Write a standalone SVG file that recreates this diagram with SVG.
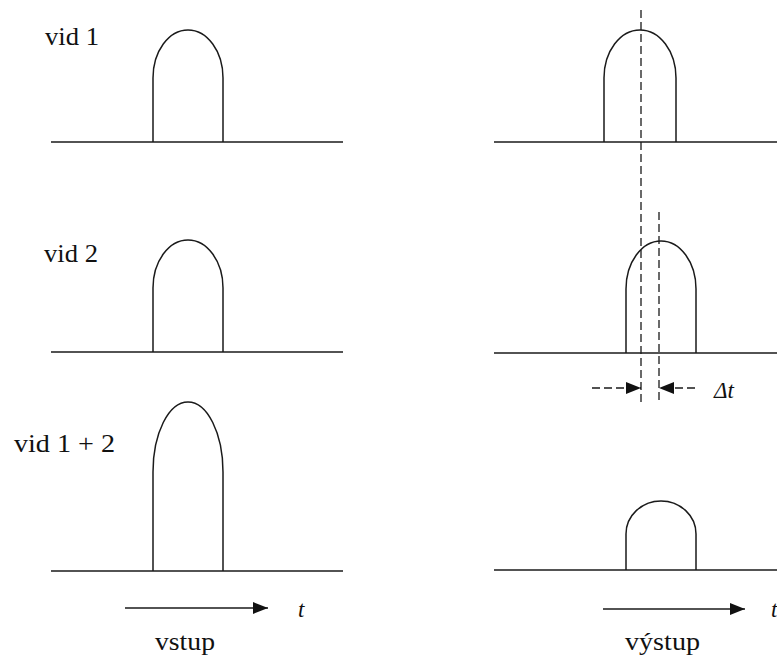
<svg xmlns="http://www.w3.org/2000/svg" width="777" height="659" viewBox="0 0 777 659">
<defs>
<style>
.ln{stroke:#1a1a1a;stroke-width:1.5;fill:none}
.dash{stroke:#1a1a1a;stroke-width:1.3;fill:none;stroke-dasharray:8 4}
.tx{font-family:"Liberation Serif","Times New Roman",serif;fill:#111}
.it{font-style:italic}
</style>
<marker id="ah" markerWidth="15" markerHeight="12" refX="15" refY="6" orient="auto" markerUnits="userSpaceOnUse">
<path d="M0,0 L15,6 L0,12 Z" fill="#111"/>
</marker>
</defs>
<rect width="777" height="659" fill="#fff"/>
<g id="labels">
<text class="tx" x="45" y="45" font-size="25" textLength="54" lengthAdjust="spacingAndGlyphs">vid 1</text>
<text class="tx" x="44" y="262" font-size="25" textLength="54" lengthAdjust="spacingAndGlyphs">vid 2</text>
<text class="tx" x="14" y="452" font-size="25" textLength="101" lengthAdjust="spacingAndGlyphs">vid 1 + 2</text>
<text class="tx" x="155" y="650" font-size="26" textLength="60" lengthAdjust="spacingAndGlyphs">vstup</text>
<text class="tx" x="625" y="650" font-size="26" textLength="75" lengthAdjust="spacingAndGlyphs">výstup</text>
<text class="tx it" x="298" y="617" font-size="23">t</text>
<text class="tx it" x="771" y="617" font-size="23">t</text>
<text class="tx it" x="714" y="398" font-size="23">Δt</text>
</g>
<g id="input">
<path class="ln" d="M51,142 H343"/>
<path class="ln" d="M153,142 V78 A35,48 0 0 1 223,78 V142"/>
<path class="ln" d="M51,352 H343"/>
<path class="ln" d="M153,352 V288 A35,48 0 0 1 223,288 V352"/>
<path class="ln" d="M51,571 H343"/>
<path class="ln" d="M153,571 V472 A35,70 0 0 1 223,472 V571"/>
</g>
<g id="output">
<path class="ln" d="M494,142 H777"/>
<path class="ln" d="M604,142 V78 A36,48 0 0 1 676,78 V142"/>
<path class="ln" d="M494,353 H777"/>
<path class="ln" d="M626,353 V289 A35,48 0 0 1 696,289 V353"/>
<path class="ln" d="M494,570 H777"/>
<path class="ln" d="M626,570 V534 A35,33 0 0 1 696,534 V570"/>
</g>
<g id="connectors">
<path class="dash" d="M641,10 V404"/>
<path class="dash" d="M659,212 V404"/>
<path class="dash" d="M592,388 H641" marker-end="url(#ah)"/>
<path class="dash" d="M695,388 H659" marker-end="url(#ah)"/>
<path class="ln" d="M125,608 H268" marker-end="url(#ah)"/>
<path class="ln" d="M603,609 H745" marker-end="url(#ah)"/>
</g>
</svg>
